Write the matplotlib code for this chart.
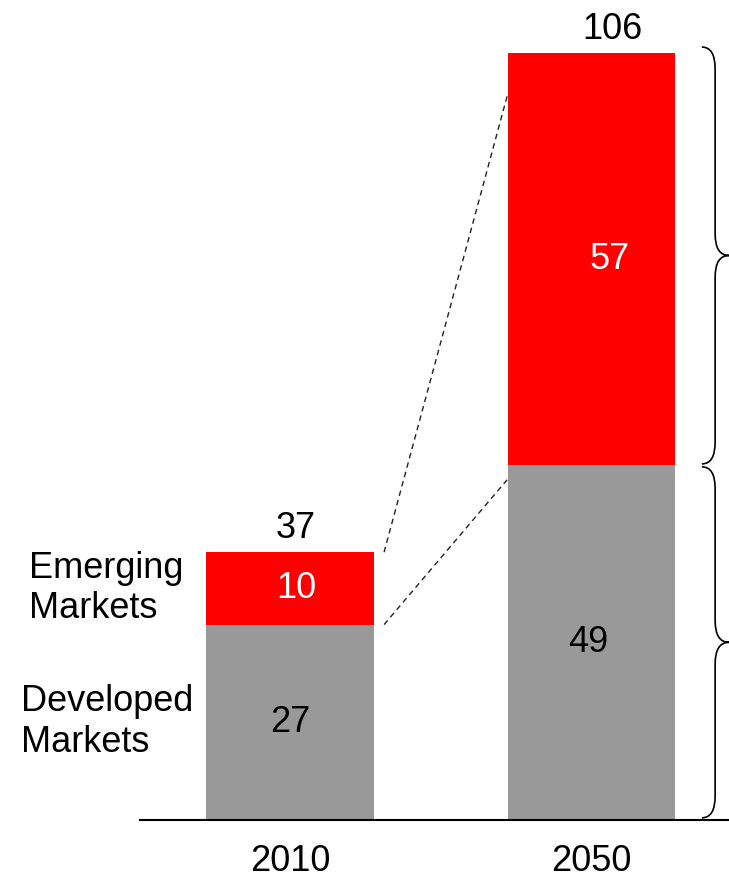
import numpy as np
import matplotlib.pyplot as plt
from matplotlib.path import Path
from matplotlib.patches import PathPatch

plt.rcParams['font.family'] = ['Liberation Sans', 'DejaVu Sans']

years = ['2010', '2050']
developed = [27, 49]
emerging = [10, 57]
totals = [37, 106]

grey = '#999999'
red = '#ff0000'

fig = plt.figure(figsize=(7.29, 8.81), dpi=100)
ax = fig.add_axes([140 / 729, 61 / 881, 589 / 729, 820 / 881])

x = np.arange(len(years))
w = 0.557
ax.bar(x, developed, w, color=grey)
ax.bar(x, emerging, w, bottom=developed, color=red)

ax.set_xlim(-0.4975, 1.456)
ax.set_ylim(0, 113.3)

for spine in ['top', 'right', 'left']:
    ax.spines[spine].set_visible(False)
ax.spines['bottom'].set_linewidth(1.5)
ax.set_yticks([])
ax.set_xticks(x, years)
ax.tick_params(axis='x', length=0, pad=17, labelsize=26)

# values inside the bars
ax.text(x[0], developed[0] / 2, str(developed[0]), ha='center', va='center', fontsize=26, color='black')
ax.text(x[0] + 0.02, developed[0] + emerging[0] / 2, str(emerging[0]), ha='center', va='center', fontsize=26, color='white')
ax.text(x[1] - 0.01, developed[1] / 2, str(developed[1]), ha='center', va='center', fontsize=26, color='black')
ax.text(x[1] + 0.06, developed[1] + emerging[1] / 2, str(emerging[1]), ha='center', va='center', fontsize=26, color='white')

# totals on top
ax.text(x[0] + 0.02, totals[0] + 0.8, str(totals[0]), ha='center', va='bottom', fontsize=26)
ax.text(x[1] + 0.07, totals[1] + 0.8, str(totals[1]), ha='center', va='bottom', fontsize=26)

# series labels on the left
ax.text(-0.865, 32, 'Emerging\nMarkets', ha='left', va='center', fontsize=26, linespacing=1.17)
ax.text(-0.892, 13.6, 'Developed\nMarkets', ha='left', va='center', fontsize=26, linespacing=1.22)

# dashed connectors
ax.plot([0.312, 0.72], [totals[0], 100], ls=(0, (4, 3)), color='#222222', lw=1)
ax.plot([0.312, 0.72], [developed[0], 47], ls=(0, (4, 3)), color='#222222', lw=1)


def brace(ax, y0, y1, xa=1.366, xb=1.410, xc=1.456, r=3.0):
    ym = (y0 + y1) / 2
    verts = [(xa, y1), (xb, y1), (xb, y1 - r),
             (xb, ym + r), (xb, ym), (xc, ym),
             (xb, ym), (xb, ym - r),
             (xb, y0 + r), (xb, y0), (xa, y0)]
    codes = [Path.MOVETO, Path.CURVE3, Path.CURVE3,
             Path.LINETO, Path.CURVE3, Path.CURVE3,
             Path.CURVE3, Path.CURVE3,
             Path.LINETO, Path.CURVE3, Path.CURVE3]
    ax.add_patch(PathPatch(Path(verts, codes), fill=False, lw=1.2, color='black', clip_on=False))


brace(ax, developed[1] + 0.2, totals[1] + 0.8)
brace(ax, 0.3, developed[1] - 0.2)

fig.savefig('out.png', dpi=100)
